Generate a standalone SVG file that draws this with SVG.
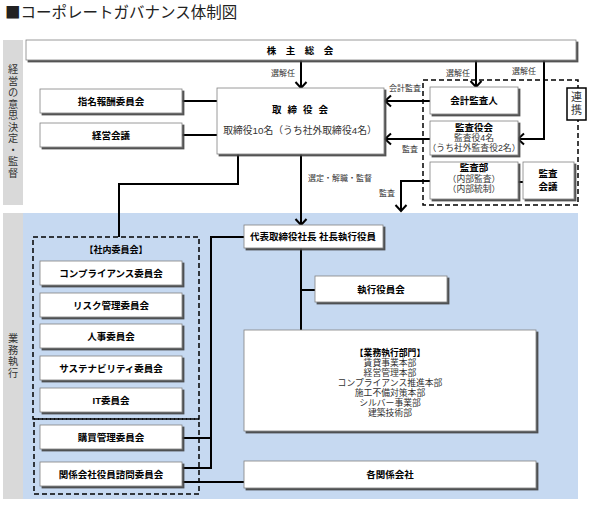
<svg xmlns="http://www.w3.org/2000/svg" width="590" height="505" viewBox="0 0 590 505">
<style>
text{font-family:"Liberation Sans","Noto Sans CJK JP","Noto Sans",sans-serif;fill:#222}
.t{font-size:9.5px;font-weight:bold;text-anchor:middle;fill:#000}
.r{font-size:8.8px;text-anchor:middle;fill:#333}
.s{font-size:8px;text-anchor:middle;fill:#333}
.v{font-size:10.2px;text-anchor:middle;fill:#333}
.b{font-weight:bold;fill:#000}
.box{fill:#fff;stroke:#808080;stroke-width:0.8;filter:url(#sh)}
.ln{fill:none;stroke:#000;stroke-width:2}
.ar{fill:none;stroke:#000;stroke-width:2;marker-end:url(#ah)}
.dash{fill:none;stroke:#000;stroke-width:1.5;stroke-dasharray:5 3}
</style>
<defs>
<filter id="sh" x="-10%" y="-20%" width="130%" height="160%">
<feDropShadow dx="2" dy="2" stdDeviation="0.7" flood-color="#404040" flood-opacity="0.9"/>
</filter>
<marker id="ah" markerUnits="userSpaceOnUse" viewBox="-8 -7 10 14" refX="0" refY="0" markerWidth="10" markerHeight="14" orient="auto">
<path d="M-6,-5.5 L0,0 L-6,5.5" fill="none" stroke="#000" stroke-width="2"/>
</marker>
</defs>

<!-- title -->
<text x="5" y="18" style="font-size:15.5px;fill:#222;font-family:'Noto Sans CJK JP',sans-serif">■コーポレートガバナンス体制図</text>

<!-- bands -->
<rect x="3" y="40" width="20" height="165" fill="#d9d9d9"/>
<rect x="3" y="213" width="20" height="286" fill="#d9d9d9"/>
<rect x="23" y="213" width="555" height="286" fill="#c6d9f1"/>
<g id="band-top-label">
<text class="v"><tspan x="13" y="73">経</tspan><tspan x="13" dy="11.5">営</tspan><tspan x="13" dy="11.5">の</tspan><tspan x="13" dy="11.5">意</tspan><tspan x="13" dy="11.5">思</tspan><tspan x="13" dy="11.5">決</tspan><tspan x="13" dy="11.5">定</tspan><tspan x="13" dy="11.5">・</tspan><tspan x="13" dy="11.5">監</tspan><tspan x="13" dy="11.5">督</tspan></text>
</g>
<g id="band-bottom-label">
<text class="v"><tspan x="13" y="342">業</tspan><tspan x="13" dy="11.5">務</tspan><tspan x="13" dy="11.5">執</tspan><tspan x="13" dy="11.5">行</tspan></text>
</g>

<!-- dashed groups -->
<rect class="dash" x="423" y="80" width="155" height="125"/>
<rect class="dash" x="33" y="237" width="166" height="182"/>
<rect class="dash" x="34" y="419" width="165" height="75"/>

<!-- connectors -->
<g id="connectors">
<path class="ar" d="M301,60 V88"/>
<path class="ln" d="M182,101 H217"/>
<path class="ln" d="M182,135 H217"/>
<path class="ln" d="M238,154 V184 H119 V237"/>
<path class="ar" d="M476,60 V87"/>
<path class="ar" d="M544,60 V139 H518"/>
<path class="ar" d="M430,101 H385"/>
<path class="ar" d="M430,139 H385"/>
<path class="ar" d="M430,181 H401 V211"/>
<path class="ln" d="M518,182 H523"/>
<path class="ar" d="M301,154 V225"/>
<path class="ln" d="M244,237 H211 V468 H182"/>
<path class="ln" d="M182,438 H211"/>
<path class="ln" d="M301,248 V330"/>
<path class="ln" d="M301,290 H315"/>
<path class="ln" d="M182,482 H244"/>
<text class="s" x="283" y="76">選解任</text>
<text class="s" x="458" y="76">選解任</text>
<text class="s" x="524" y="74">選解任</text>
<text class="s" x="405" y="91">会計監査</text>
<text class="s" x="410" y="152">監査</text>
<text class="s" x="387" y="196">監査</text>
<text class="s" x="340" y="181">選定・解職・監督</text>
</g>

<g id="kabunushi">
<rect class="box" x="26" y="40" width="550" height="20"/>
<text class="t" x="300" y="54">株　主　総　会</text>
</g>
<g id="torishimariyakukai">
<rect class="box" x="217" y="88" width="167" height="66"/>
<text class="t" x="303" y="113" style="letter-spacing:6px">取締役会</text>
<text class="r" x="300" y="134" style="font-size:9.8px">取締役10名（うち社外取締役4名）</text>
</g>
<g id="shimei">
<rect class="box" x="40" y="89" width="142" height="24"/>
<text class="t" x="111" y="105">指名報酬委員会</text>
</g>
<g id="keiei">
<rect class="box" x="40" y="123" width="142" height="24"/>
<text class="t" x="111" y="139">経営会議</text>
</g>
<g id="kaikei">
<rect class="box" x="430" y="87" width="88" height="27"/>
<text class="t" x="474" y="104">会計監査人</text>
</g>
<g id="kansayakukai">
<rect class="box" x="430" y="121" width="88" height="34"/>
<text class="r"><tspan class="b" x="474" y="130.5" style="font-size:9.5px">監査役会</tspan><tspan x="474" dy="10.5">監査役4名</tspan><tspan x="474" dy="10.2">（うち社外監査役2名）</tspan></text>
</g>
<g id="kansabu">
<rect class="box" x="430" y="162" width="88" height="37"/>
<text class="r"><tspan class="b" x="474" y="171" style="font-size:9.5px">監査部</tspan><tspan x="474" dy="11">（内部監査）</tspan><tspan x="474" dy="10.2">（内部統制）</tspan></text>
</g>
<g id="kansakaigi">
<rect class="box" x="523" y="162" width="51" height="37"/>
<text class="t"><tspan x="548" y="177">監査</tspan><tspan x="548" dy="13">会議</tspan></text>
</g>
<g id="renkei">
<rect x="567" y="88" width="19" height="32" fill="#fff" stroke="#000" stroke-width="1.5"/>
<text class="v" style="font-size:11px"><tspan x="576.5" y="101">連</tspan><tspan x="576.5" dy="13">携</tspan></text>
</g>

<g id="daihyo">
<rect class="box" x="244" y="225" width="139" height="23"/>
<text class="t" x="313" y="240">代表取締役社長 社長執行役員</text>
</g>
<g id="shikkoyakuinkai">
<rect class="box" x="315" y="276" width="132" height="26"/>
<text class="t" x="381" y="293">執行役員会</text>
</g>
<g id="gyomubumon">
<rect class="box" x="244" y="330" width="292" height="101"/>
<text class="r"><tspan class="b" x="390" y="355.5" style="font-size:8.8px">【業務執行部門】</tspan><tspan x="390" dy="10">賃貸事業本部</tspan><tspan x="390" dy="10">経営管理本部</tspan><tspan x="390" dy="10">コンプライアンス推進本部</tspan><tspan x="390" dy="10">施工不備対策本部</tspan><tspan x="390" dy="10">シルバー事業部</tspan><tspan x="390" dy="10">建築技術部</tspan></text>
</g>
<g id="kakukankei">
<rect class="box" x="244" y="461" width="292" height="27"/>
<text class="t" x="390" y="478">各関係会社</text>
</g>

<g id="shanai-label">
<text class="t" x="116" y="253" style="font-size:9px">【社内委員会】</text>
</g>
<g id="compliance">
<rect class="box" x="40" y="261" width="142" height="24"/>
<text class="t" x="111" y="277">コンプライアンス委員会</text>
</g>
<g id="risk">
<rect class="box" x="40" y="293" width="142" height="24"/>
<text class="t" x="111" y="309">リスク管理委員会</text>
</g>
<g id="jinji">
<rect class="box" x="40" y="324" width="142" height="24"/>
<text class="t" x="111" y="340">人事委員会</text>
</g>
<g id="sustainability">
<rect class="box" x="40" y="356" width="142" height="24"/>
<text class="t" x="111" y="372">サステナビリティ委員会</text>
</g>
<g id="it">
<rect class="box" x="40" y="388" width="142" height="24"/>
<text class="t" x="111" y="404">IT委員会</text>
</g>
<g id="kobai">
<rect class="box" x="40" y="425" width="142" height="24"/>
<text class="t" x="111" y="441">購買管理委員会</text>
</g>
<g id="kankeikaisha">
<rect class="box" x="40" y="462" width="142" height="24"/>
<text class="t" x="111" y="478">関係会社役員諮問委員会</text>
</g>
</svg>
